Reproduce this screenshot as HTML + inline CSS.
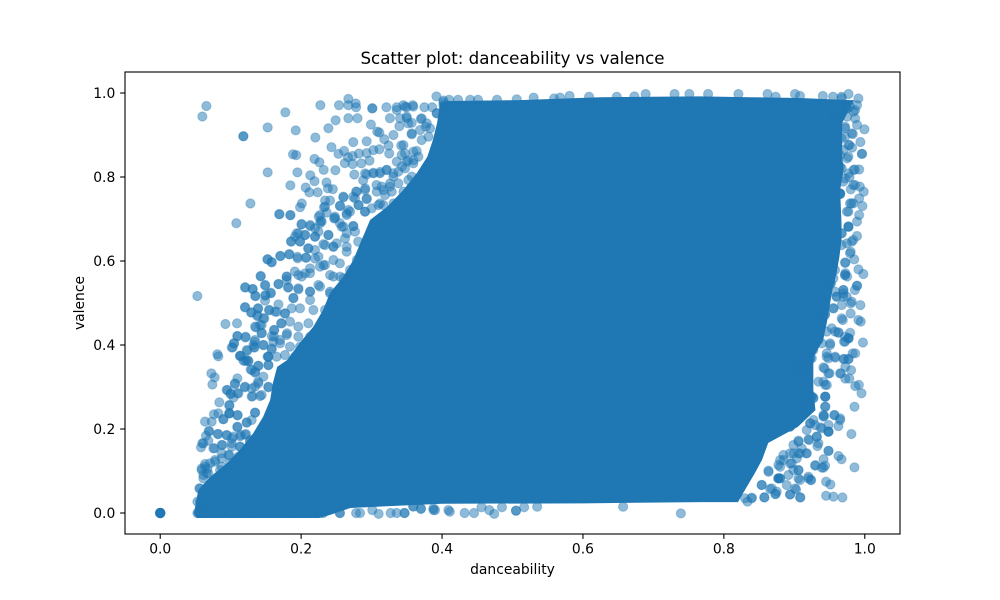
<!DOCTYPE html>
<html lang="en">
<head>
<meta charset="utf-8">
<title>Scatter plot: danceability vs valence</title>
<style>
html,body{margin:0;padding:0;background:#fff;width:1000px;height:600px;overflow:hidden}
svg{display:block}
text{font-family:"DejaVu Sans",sans-serif;fill:#000}
</style>
</head>
<body>
<svg id="chart" width="1000" height="600" viewBox="0 0 1000 600" xmlns="http://www.w3.org/2000/svg">
<rect x="0" y="0" width="1000" height="600" fill="#fff"/>
<g id="marks"></g>
<g id="axes"></g>
<text x="512.5" y="64" text-anchor="middle" font-size="16.67">Scatter plot: danceability vs valence</text>
<text x="512.5" y="574" text-anchor="middle" font-size="13.89">danceability</text>
<text x="84" y="303" text-anchor="middle" font-size="13.89" transform="rotate(-90 84 303)">valence</text>
</svg>
<script>
var xTicks = [0, 0.2, 0.4, 0.6, 0.8, 1.0];
var yTicks = [0, 0.2, 0.4, 0.6, 0.8, 1.0];
var xTickLabels = ["0.0", "0.2", "0.4", "0.6", "0.8", "1.0"];
var yTickLabels = ["0.0", "0.2", "0.4", "0.6", "0.8", "1.0"];

/* outline of the fully saturated region, where individual points merge */
var denseDanceability = [
.397,.393,.387,.379,.3645,.345,.322,.298,.284,.274,.2595,.241,.231,.217,.198,.18,.166,.16,.156,.146,.132,.113,.095,.071,.054,.048,
.052,.225,.240,.270,.400,.600,.770,.820,
.83,.844,.854,.863,.905,.93,.927,.927,.927,.941,.946,.954,.96,.964,.967,.967,.966,.965,.97,.968,.968,.985,
.979,.908,.837,.766,.624,.510,.404];
var denseValence = [
.976,.929,.888,.848,.81,.769,.729,.698,.643,.602,.562,.524,.483,.443,.405,.364,.348,.31,.269,.229,.19,.15,.119,.086,.055,.000,
-.012,-.012,-.005,.012,.022,.023,.026,.026,
.055,.095,.126,.167,.205,.245,.293,.333,.371,.412,.452,.531,.571,.61,.65,.69,.729,.769,.817,.848,.929,.983,
.983,.988,.990,.992,.990,.983,.981];

/* individually visible tracks */
var danceability = [
.0655,.0598,.118,.118,.1525,.1776,.1923,.2273,.2202,.2387,.249,.2538,.267,.267,.2775,.278,.267,.28,.301,.301,
.321,.299,.308,.311,.274,.293,.243,.253,.261,.282,.293,.3025,.311,.2665,.273,.262,.273,.2855,.297,.1885,
.193,.219,.226,.232,.2486,.1525,.1947,.213,.219,.1847,.2065,.2117,.2235,.236,.238,.245,.2755,.288,.293,.3025,
.312,.3215,.291,.278,.274,.26,.293,.234,.241,.128,.201,.1985,.169,.1847,.2325,.255,.2363,.225,.228,.2467,
.267,.2647,.2817,.2907,.108,.2004,.213,.2197,.2268,.1937,.2055,.186,.1985,.2197,.2387,.255,.26,.274,.2647,.2765,
.21,.2315,.2458,.2647,.281,.1525,.158,.1705,.183,.1947,.207,.2197,.2315,.1426,.168,.1795,.191,.2008,.2126,.2268,
.2458,.255,.1208,.131,.149,.157,.135,.149,.1814,.196,.0527,.189,.2126,.2268,.2458,.26,.241,.2694,.279,
.3356,.345,.35,.3584,.375,.386,.392,.402,.326,.3395,.35,.357,.37,.377,.3925,.357,.331,.318,.324,.342,
.364,.3475,.352,.3595,.325,.343,.357,.331,.307,.317,.326,.312,
.0925,.109,.1204,.1289,.139,.1383,.1464,.1346,.1417,.144,.1544,.1653,.1724,.177,.1615,.1095,.1208,.1047,.1015,.134,
.1228,.1337,.1464,.158,.1615,.17,.18,.0811,.0825,.1133,.118,.125,.139,.1283,.1346,.1535,.1535,.1653,.0726,.0773,
.074,.1095,.106,.1464,.139,.12,.1346,.0944,.1,.1095,.104,.131,.1417,.1535,.0839,.0981,.1346,.0981,.0981,.0763,
.0825,.0896,.1095,.0636,.073,.1228,.1095,.0697,.065,.0815,.0944,.0597,.0579,.0683,.077,.0873,.1015,.1038,.1142,.1218,
.0873,.0967,.0778,.1133,.1275,.0636,.067,.0588,.0612,.0683,.0873,.0555,.0565,.0527,.065,.08,.10,.13,.16,.19,
.227,.2315,.255,.255,.278,.2836,.301,.31,.327,.3356,.3465,.3594,.37,.3878,.39,.409,.347,.37,.3878,.411,
.432,.4454,.474,.467,.505,.505,.5165,.535,.456,.485,.657,.739,.359,
.53,.559,.5675,.581,.6087,.648,.673,.689,.73,.751,.7776,.506,.478,.451,.44,.4227,.41,.402,
.862,.8206,.901,.908,.8735,.9405,.955,.967,.9769,.9909,.989,.9842,.975,.9658,.958,.975,.989,.9995,.983,.972,
.96,.9938,.9768,.982,.967,.996,.996,.965,.975,.992,.986,.9784,.965,.9695,.9835,.993,.9985,.992,.965,.965,
.9966,.981,.9746,.992,.989,.9768,.967,.989,.9835,.9746,.98,.985,.9725,.991,.998,.9725,.975,.989,.989,.9517,
.9696,.9555,.96,.9938,.98,.98,.9696,.986,.991,.9943,.9688,.9974,.9792,.977,.977,.9706,.9626,.9508,.946,.958,
.9864,.9827,.977,.971,.9724,.9806,.9661,.943,.95,.9724,.978,.9866,.9916,.9954,.944,.944,.927,.9854,.944,.957,
.9424,.965,.9626,.9485,.937,.9485,.9485,.981,.932,.92,.9327,.906,.9485,.9485,.917,.9627,.967,.9415,.93,.9437,
.939,.9854,.906,.92,.9234,.9451,.9512,.908,.9025,.9451,.9555,.9683,.9086,.894,.873,.8575,.8396,.8335,.8798,.8798,
.8656,.8537,.8635,.8798,.894,.899,.908,.8798,.9225,.9225,.9176,.9176,.894,.894,.9246,.9246,.9224,.9224,.908,.9012,
.896,.906,.9176,.9343,.9437,.927,.9343,.946,.958,.931,.9437,.9555,.927,
0,0,0,0,0,0,0,0];
var valence = [
.969,.944,.897,.897,.918,.954,.911,.971,.894,.916,.935,.971,.986,.971,.975,.966,.94,.94,.9635,.9635,
.966,.925,.908,.906,.883,.885,.871,.855,.862,.856,.857,.864,.866,.847,.85,.833,.831,.8325,.839,.854,
.852,.843,.835,.817,.816,.811,.811,.804,.79,.78,.775,.7635,.7635,.787,.773,.771,.806,.792,.806,.81,
.812,.817,.773,.765,.753,.7516,.747,.744,.744,.737,.737,.728,.711,.709,.728,.731,.715,.7055,.696,.7016,
.7214,.7095,.733,.7175,.69,.687,.683,.678,.69,.666,.662,.647,.647,.658,.662,.69,.682,.683,.666,.67,
.63,.64,.634,.634,.646,.604,.5976,.612,.616,.61,.608,.606,.59,.5635,.545,.563,.575,.563,.571,.5865,
.6024,.5944,.537,.533,.542,.523,.5167,.5175,.537,.535,.5167,.512,.527,.539,.563,.559,.527,.5786,.6024,
.966,.971,.966,.971,.966,.966,.992,.978,.94,.921,.94,.929,.938,.92,.952,.9016,.9,.89,.875,.875,
.862,.856,.84,.84,.856,.825,.801,.809,.781,.769,.777,.737,
.45,.4516,.49,.477,.487,.471,.4635,.4437,.4476,.429,.483,.479,.4516,.475,.4357,.421,.418,.404,.394,.408,
.388,.394,.4,.392,.42,.412,.428,.378,.373,.3746,.3627,.362,.35,.342,.3365,.372,.352,.372,.3325,.323,
.306,.3206,.307,.3246,.3127,.299,.3008,.293,.283,.285,.275,.2786,.2786,.299,.2635,.2556,.239,.2373,.2373,.235,
.2373,.223,.2325,.2175,.2175,.215,.204,.1944,.184,.188,.185,.166,.1563,.172,.154,.162,.166,.182,.1857,.188,
.142,.138,.122,.158,.17,.1167,.106,.106,.0905,.0944,.11,.0587,.027,0,0,0,0,0,0,0,
0,0,0,0,0,0,.007,-.002,0,0,0,.015,.011,.011,.007,.007,0,.0095,.007,.003,
0,0,-.002,.007,.0055,.0055,.0136,.015,.0136,.0136,.015,-.001,.016,
.989,.987,.989,.993,.991,.991,.992,.9976,.9976,.9976,.9976,.985,.984,.984,.984,.984,.984,.982,
.9976,.9976,.9976,.993,.991,.993,.991,.991,.9976,.987,.971,.9556,.9635,.9556,.9437,.9437,.924,.9135,.9024,.916,
.928,.8833,.876,.87,.892,.855,.855,.852,.8444,.818,.818,.8,.8246,.789,.781,.777,.765,.749,.7595,.7595,
.731,.737,.7175,.7095,.694,.682,.666,.6595,.65,.642,.622,.604,.596,.58,.569,.571,.563,.541,.541,.547,
.531,.559,.515,.495,.499,.475,.523,.531,.4595,.4556,.4595,.406,.429,.416,.416,.408,.429,.404,.372,.37,
.38,.38,.3667,.3667,.348,.34,.3325,.344,.3325,.32,.32,.302,.305,.285,.277,.277,.275,.253,.253,.233,
.231,.2214,.207,.2095,.204,.1937,.1937,.188,.182,.1754,.1595,.17,.148,.148,.142,.1357,.128,.128,.114,.1127,
.108,.1087,.102,.0865,.0786,.0746,.068,.0786,.056,.041,.039,.037,.037,.044,.045,.037,.035,.027,.0825,.0825,
.057,.0667,.098,.11,.118,.142,.142,.126,.2135,.2135,.245,.245,.2056,.2056,.277,.277,.368,.368,.36,.356,
.34,.32,.3286,.3127,.305,.388,.412,.432,.432,.4556,.475,.4873,.507,
0,0,0,0,0,0,0,0];

/* tracks in the crowded band along the edge of the saturated region */
var bandDanceability = [
.3357,.3475,.3592,.3498,.3404,.3521,.3711,.3783,.3688,.3829,.3924,.4019,.4066,.357,.3807,.3711,.3452,.3593,.3427,.3498,
.3664,.3357,.3475,.3593,.338,.3309,.3213,.3119,.3025,.2907,.3262,.3143,.338,.3522,.3073,.3191,.3286,.3452,.2907,.2789,
.2931,.2764,.2812,.3002,.3096,.2907,.3167,.331,.2694,.26,.2553,.2339,.2268,.248,.2646,
.1691,.1847,.2008,.1961,.2056,.1913,.1857,.1984,.2197,.2127,.2245,.2292,.2387,.2481,.2576,.2623,.274,.2339,.2457,.2103,
.2197,.2505,.2646,.1521,.1583,.1705,.1833,.1951,.2069,.2245,.2339,.2127,.2056,.1961,.1795,.1795,.1677,.1426,.1488,.1568,
.1204,.1313,.1351,.1497,.1488,.1819,.189,.1961,.2127,.2245,.2411,.2553,.2694,.2411,.1204,.1298,.1388,.1378,.1478,.1549,
.1677,.1629,.1771,.1866,.1984,.2127,.2174,.2339,.1715,.1842,.196,.2103,.136,.144,.144,.162,.1583,.1795,.196,.2127,
.1095,.1213,.1345,.1047,.1029,.1464,.1322,.1606,.1237,.1332,.1583,.1701,.1842,.1984,.1142,.1226,.1524,.1771,.1913,
.1133,.1204,.1251,.1535,.1393,.1298,.1346,.1535,.1062,.1204,.0953,.1,.1109,.1298,.1393,.1535,.1298,.144,.0981,.0981,
.11,.0895,.1346,.1227,.1298,.1095,.0688,.0825,.0944,.0612,.0754,.0882,.1015,.1133,.1204,.1015,.1133,.0778,.0872,.0981,
.0636,.0589,.066,.0612,.0565,.0527,.054,.0707,.0849,.0991,.1109,.1275,
.9673,.9863,.9791,.9578,.9649,.9744,.9863,.9815,.972,.9578,.972,.9782,.9697,.9768,.9673,.9839,.9768,.972,.9863,.9801,
.9649,.9649,.9839,.9791,.9768,.9768,.9768,.9673,.9815,.9673,.9791,.972,.972,.972,.9578,.9517,.9697,.9602,.9744,
.9578,.9696,.9815,.9673,.9554,.9436,.9673,.9531,.9626,.972,.9767,.972,.9508,.939,.9461,.9579,.9484,.9696,.9767,.9248,
.9129,.9011,.9413,.9484,.965,.9413,.9461,.9437,.9271,.9177,.9437,.9177,.9413,.9569,.965,
.9058,.8987,.9105,.9177,.9058,.894,.8846,.8632,.8774,.8964,.9035,.8846,.8987,.9058,.8916,.9058,.8774,.8774,.8774,.8892,
.901,.92,.9238,.868,.875,.8538,.894,.8736,.9082,.8575,.8396,.8301,.9295,.9413,.9342,.921,.9318,.9271,.9389,.9484,
.9413,.9176,.9295];
var bandValence = [
.9595,.9675,.9675,.9437,.9397,.9278,.9397,.9278,.9119,.9159,.9516,.9714,.9595,.904,.896,.888,.876,.8603,.8524,.8365,
.8484,.8365,.8206,.8325,.8127,.8008,.8167,.8087,.8087,.8087,.7849,.777,.7849,.7929,.7651,.7571,.7651,.7651,.769,.7651,
.7492,.7492,.7333,.7254,.7333,.7175,.7333,.7373,.7175,.7532,.7317,.7294,.7095,.7056,.7135,
.7119,.7095,.6881,.6659,.6619,.6579,.646,.646,.6579,.6857,.6698,.6937,.6619,.7016,.6817,.654,.6833,.6381,.6341,.6302,
.6262,.6421,.6222,.604,.5968,.6119,.6159,.6063,.6079,.6103,.5905,.5825,.5706,.5667,.5627,.5548,.5452,.5643,.5429,.5246,
.5373,.5333,.5167,.519,.5056,.5373,.5119,.5325,.527,.5429,.523,.5627,.5548,.5667,.4897,.4778,.4873,.469,.4635,.4833,
.4968,.4794,.4754,.4873,.4873,.5071,.4833,.4833,.4516,.4556,.4437,.4516,.4421,.4476,.4278,.4357,.4214,.4238,.4198,.4198,
.4214,.4198,.4119,.404,.3944,.4,.4,.4079,.3865,.3944,.3897,.404,.396,.396,.3738,.3643,.3722,.3762,.3722,
.3738,.3619,.3619,.3722,.3508,.3405,.3341,.3524,.3087,.3008,.2929,.2849,.2849,.2968,.3087,.3008,.277,.281,.2571,.2373,
.2333,.2238,.2389,.2159,.2214,.2056,.1952,.1881,.1857,.1659,.154,.1619,.1778,.1825,.1865,.1579,.1579,.1262,.1302,.1381,
.1103,.1024,.0944,.0825,.0587,.027,0,.1183,.1024,.1183,.1341,.1738,
.9873,.9595,.9675,.9476,.9437,.9635,.9397,.904,.9198,.904,.896,.8762,.8643,.8484,.8206,.8167,.8087,.7968,.781,.7706,
.7611,.7611,.7373,.7373,.7175,.6817,.6817,.6659,.646,.6381,.6183,.596,.5667,.5667,.5786,.5468,.531,.5151,.5151,
.527,.5151,.5032,.4952,.4873,.4714,.4635,.4397,.4302,.4198,.4159,.4079,.4,.404,.3802,.3722,.3683,.3667,.3667,.3683,
.3524,.3524,.3468,.3325,.3325,.3127,.3048,.277,.273,.269,.2532,.2452,.2333,.2333,.2254,
.1722,.1619,.154,.1421,.1421,.1421,.1381,.1008,.1143,.1183,.1302,.1262,.1024,.1024,.0905,.0825,.0825,.0825,.0825,.0667,
.0587,.0825,.0786,.0587,.0508,.0667,.0444,.0452,.0373,.0373,.0365,.0349,.1127,.1079,.1659,.1738,.1817,.2214,.2016,.1937,
.2294,.1976,.2095];

var NS = "http://www.w3.org/2000/svg";
var plotLeft = 125, plotRight = 900, plotTop = 72, plotBottom = 534;
var xMin = -0.05, xMax = 1.05, yMin = -0.05, yMax = 1.05;

function xScale(v) { return plotLeft + (v - xMin) / (xMax - xMin) * (plotRight - plotLeft); }
function yScale(v) { return plotBottom - (v - yMin) / (yMax - yMin) * (plotBottom - plotTop); }

function make(tag, attrs, parent) {
  var el = document.createElementNS(NS, tag);
  for (var k in attrs) el.setAttribute(k, attrs[k]);
  parent.appendChild(el);
  return el;
}

var marks = document.getElementById("marks");
var axes = document.getElementById("axes");

var densePts = denseDanceability.map(function (d, i) {
  return xScale(d).toFixed(2) + "," + yScale(denseValence[i]).toFixed(2);
}).join(" ");
var dense = make("polygon", { points: densePts, fill: "#1f77b4" }, marks);



function drawPoints(xs, ys) {
  var count = Math.min(xs.length, ys.length);
  for (var i = 0; i < count; i++) {
    var dot = make("circle", {
      cx: xScale(xs[i]).toFixed(2),
      cy: yScale(ys[i]).toFixed(2),
      r: 4.6,
      fill: "#1f77b4",
      "fill-opacity": 0.5,
      stroke: "#1f77b4",
      "stroke-opacity": 0.32,
      "stroke-width": 1.1
    }, marks);
    
    
  }
}
drawPoints(bandDanceability, bandValence);
drawPoints(danceability, valence);

var frame = make("rect", {
  x: plotLeft, y: plotTop, width: plotRight - plotLeft, height: plotBottom - plotTop,
  fill: "none", stroke: "#000", "stroke-width": 1.11
}, axes);



xTicks.forEach(function (t, i) {
  var x = xScale(t);
  var tick = make("line", { x1: x, x2: x, y1: plotBottom, y2: plotBottom + 4.86, stroke: "#000", "stroke-width": 1.11 }, axes);
  
  
  var label = make("text", { x: x, y: plotBottom + 19.5, "text-anchor": "middle", "font-size": 13.89 }, axes);
  label.textContent = xTickLabels[i];
  
  
});

yTicks.forEach(function (t, i) {
  var y = yScale(t);
  var tick = make("line", { x1: plotLeft - 4.86, x2: plotLeft, y1: y, y2: y, stroke: "#000", "stroke-width": 1.11 }, axes);
  
  
  var label = make("text", { x: plotLeft - 9.7, y: y + 5.2, "text-anchor": "end", "font-size": 13.89 }, axes);
  label.textContent = yTickLabels[i];
  
  
});
</script>
</body>
</html>
